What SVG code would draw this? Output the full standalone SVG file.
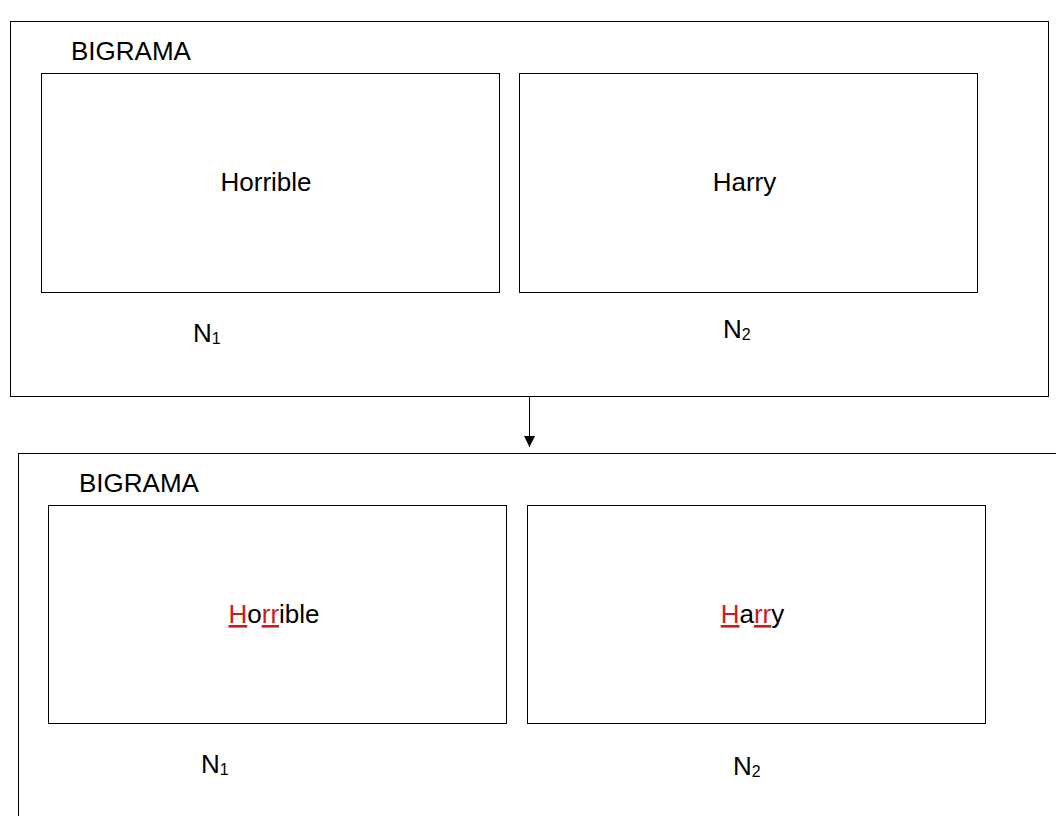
<svg xmlns="http://www.w3.org/2000/svg" width="1056" height="816" viewBox="0 0 1056 816">
<style>
.box{fill:none;stroke:#000;stroke-width:1}
.t{font-family:"Liberation Sans",Arial,sans-serif;font-size:26px;fill:#000}
.s{font-size:16px}
.r{fill:#d01a1a;text-decoration:underline}
</style>
<defs>
<marker id="ah" markerWidth="12" markerHeight="12" refX="11" refY="6" orient="auto" markerUnits="userSpaceOnUse" viewBox="0 0 12 12">
<path d="M0,0.5 L11,6 L0,11.5 Z" fill="#000"/>
</marker>
</defs>
<rect width="1056" height="816" fill="#fff"/>
<g id="top">
<rect class="box" x="10.5" y="21.5" width="1038" height="375"/>
<text class="t" x="71" y="60">BIGRAMA</text>
</g>
<g id="top-n1">
<rect class="box" x="41.5" y="73.5" width="458" height="219"/>
<text class="t" x="266" y="191" text-anchor="middle">Horrible</text>
<text class="t" x="193" y="342">N<tspan class="s" dy="2">1</tspan></text>
</g>
<g id="top-n2">
<rect class="box" x="519.5" y="73.5" width="458" height="219"/>
<text class="t" x="744.5" y="191" text-anchor="middle">Harry</text>
<text class="t" x="723" y="338">N<tspan class="s" dy="2">2</tspan></text>
</g>
<g id="bottom">
<rect class="box" x="18.5" y="453.5" width="1100" height="400"/>
<text class="t" x="79" y="492">BIGRAMA</text>
</g>
<g id="bottom-n1">
<rect class="box" x="48.5" y="505.5" width="458" height="218"/>
<text class="t" x="274" y="623" text-anchor="middle"><tspan class="r">H</tspan>o<tspan class="r">rr</tspan>ible</text>
<text class="t" x="201" y="773">N<tspan class="s" dy="2">1</tspan></text>
</g>
<g id="bottom-n2">
<rect class="box" x="527.5" y="505.5" width="458" height="218"/>
<text class="t" x="752.5" y="623" text-anchor="middle"><tspan class="r">H</tspan>a<tspan class="r">rr</tspan>y</text>
<text class="t" x="733" y="775">N<tspan class="s" dy="2">2</tspan></text>
</g>
<g id="connectors">
<line x1="529.5" y1="396.5" x2="529.5" y2="447" stroke="#000" stroke-width="1" marker-end="url(#ah)"/>
</g>
</svg>
